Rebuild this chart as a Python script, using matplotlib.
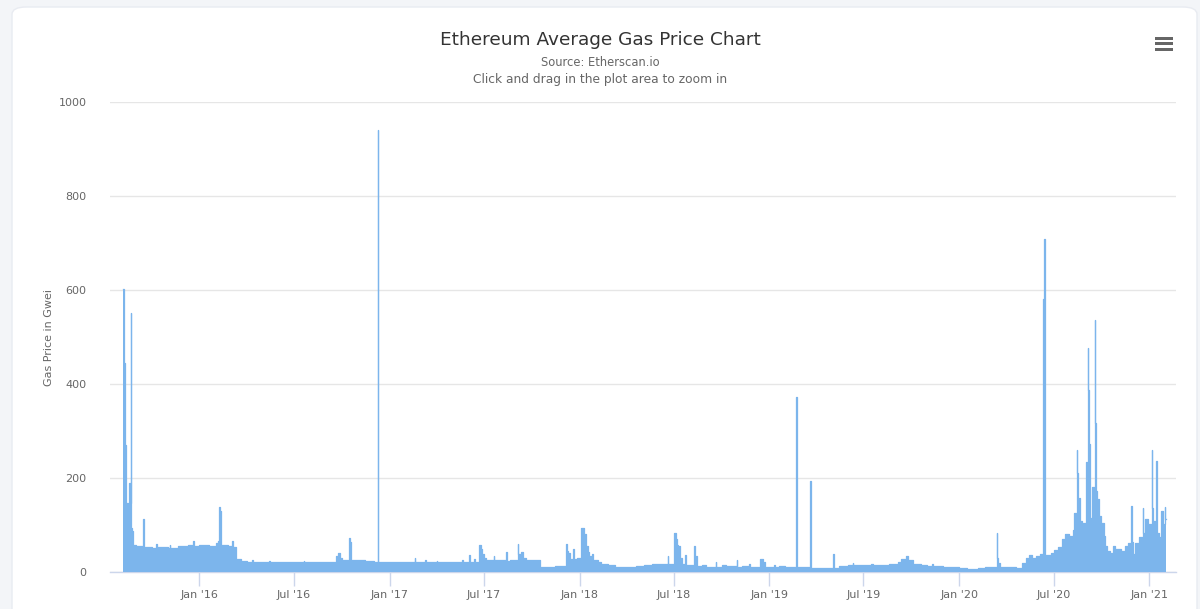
import numpy as np
import pandas as pd
import matplotlib
matplotlib.use("Agg")
import matplotlib.pyplot as plt
from matplotlib.patches import FancyBboxPatch, Rectangle

# --- données (Gwei, palier à partir de la date) ---
dates_2015 = ["2015-08-07", "2015-08-08", "2015-08-09", "2015-08-11", "2015-08-13", "2015-08-16",
              "2015-08-18", "2015-08-20", "2015-08-22", "2015-08-23", "2015-08-25", "2015-08-27",
              "2015-09-01", "2015-09-15", "2015-09-16", "2015-10-01", "2015-10-10", "2015-10-12",
              "2015-11-01", "2015-11-05", "2015-11-06", "2015-11-20", "2015-12-10", "2015-12-20",
              "2015-12-21"]
vals_2015 = [603, 474, 445, 270, 146, 142,
             190, 146, 552, 94, 88, 58,
             55, 112, 54, 51, 60, 53,
             52, 58, 52, 55, 58, 66,
             56]

dates_2016 = ["2016-01-01", "2016-01-20", "2016-02-01", "2016-02-05", "2016-02-08", "2016-02-10",
              "2016-02-12", "2016-02-25", "2016-03-03", "2016-03-05", "2016-03-12", "2016-03-20",
              "2016-04-01", "2016-04-12", "2016-04-13", "2016-05-01", "2016-05-14", "2016-05-15",
              "2016-06-01", "2016-07-01", "2016-07-20", "2016-07-21", "2016-08-01", "2016-09-01",
              "2016-09-20", "2016-09-24", "2016-09-27", "2016-10-01", "2016-10-14", "2016-10-16",
              "2016-10-19", "2016-11-15", "2016-12-01", "2016-12-09", "2016-12-10"]
vals_2016 = [57, 55, 62, 66, 138, 130,
             57, 55, 66, 53, 27, 23,
             22, 25, 21, 21, 24, 21,
             22, 21, 24, 21, 21, 21,
             34, 40, 30, 26, 73, 64,
             25, 24, 22, 940, 22]

dates_2017 = ["2017-01-01", "2017-02-18", "2017-02-19", "2017-03-10", "2017-03-11", "2017-04-01",
              "2017-04-02", "2017-05-20", "2017-05-21", "2017-06-03", "2017-06-04", "2017-06-12",
              "2017-06-14", "2017-06-22", "2017-06-25", "2017-06-28", "2017-07-02", "2017-07-06",
              "2017-07-20", "2017-07-21", "2017-08-13", "2017-08-14", "2017-08-20", "2017-09-04",
              "2017-09-05", "2017-09-10", "2017-09-14", "2017-09-20", "2017-10-16", "2017-11-01",
              "2017-11-15", "2017-12-05", "2017-12-07", "2017-12-10", "2017-12-13", "2017-12-20",
              "2017-12-22", "2017-12-28"]
vals_2017 = [21, 29, 21, 25, 21, 24,
             21, 26, 21, 36, 22, 27,
             22, 57, 48, 38, 30, 26,
             33, 25, 42, 23, 25, 60,
             38, 42, 30, 26, 11, 10,
             12, 59, 44, 40, 28, 48,
             28, 30]

dates_2018 = ["2018-01-03", "2018-01-10", "2018-01-13", "2018-01-17", "2018-01-20", "2018-01-24",
              "2018-01-27", "2018-02-05", "2018-02-12", "2018-02-25", "2018-03-10", "2018-04-01",
              "2018-04-20", "2018-05-05", "2018-05-20", "2018-06-01", "2018-06-20", "2018-06-21",
              "2018-07-02", "2018-07-05", "2018-07-07", "2018-07-09", "2018-07-12", "2018-07-14",
              "2018-07-17", "2018-07-23", "2018-07-24", "2018-08-09", "2018-08-11", "2018-08-13",
              "2018-08-14", "2018-08-25", "2018-09-01", "2018-09-20", "2018-09-21", "2018-10-01",
              "2018-10-10", "2018-10-30", "2018-10-31", "2018-11-10", "2018-11-22", "2018-11-25",
              "2018-12-14", "2018-12-19", "2018-12-22", "2018-12-23"]
vals_2018 = [93, 80, 55, 42, 35, 38,
             25, 22, 16, 14, 11, 10,
             13, 15, 16, 17, 33, 16,
             84, 70, 58, 40, 56, 30,
             16, 37, 15, 56, 20, 35,
             12, 14, 11, 22, 11, 14,
             12, 26, 11, 12, 16, 11,
             28, 13, 22, 11]

dates_2019 = ["2019-01-01", "2019-01-10", "2019-01-12", "2019-01-20", "2019-02-01", "2019-02-22",
              "2019-02-23", "2019-03-21", "2019-03-22", "2019-04-10", "2019-05-04", "2019-05-05",
              "2019-05-15", "2019-06-01", "2019-06-10", "2019-06-11", "2019-07-01", "2019-07-15",
              "2019-07-20", "2019-08-01", "2019-08-20", "2019-09-05", "2019-09-12", "2019-09-20",
              "2019-09-25", "2019-10-05", "2019-10-20", "2019-11-01", "2019-11-10", "2019-11-11",
              "2019-12-01", "2019-12-20"]
vals_2019 = [10, 14, 10, 12, 11, 373,
             10, 194, 9, 8, 39, 9,
             13, 15, 19, 14, 14, 17,
             14, 15, 18, 22, 28, 33,
             25, 16, 14, 13, 17, 12,
             11, 10]

dates_2020 = ["2020-01-01", "2020-01-16", "2020-02-06", "2020-02-20", "2020-03-13", "2020-03-14",
              "2020-03-16", "2020-03-20", "2020-04-01", "2020-04-20", "2020-05-01", "2020-05-08",
              "2020-05-15", "2020-05-20", "2020-05-28", "2020-06-05", "2020-06-11", "2020-06-12",
              "2020-06-13", "2020-06-14", "2020-06-25", "2020-07-01", "2020-07-10", "2020-07-16",
              "2020-07-23", "2020-07-30", "2020-08-07", "2020-08-09", "2020-08-14", "2020-08-15",
              "2020-08-16", "2020-08-19", "2020-08-21", "2020-08-25", "2020-09-01", "2020-09-04",
              "2020-09-05", "2020-09-06", "2020-09-08", "2020-09-12", "2020-09-18", "2020-09-19",
              "2020-09-20", "2020-09-23", "2020-09-26", "2020-09-30", "2020-10-05", "2020-10-08",
              "2020-10-12", "2020-10-17", "2020-10-22", "2020-10-27", "2020-11-01", "2020-11-08",
              "2020-11-15", "2020-11-20", "2020-11-27", "2020-11-28", "2020-12-01", "2020-12-05",
              "2020-12-12", "2020-12-19", "2020-12-20", "2020-12-24", "2020-12-30"]
vals_2020 = [9, 6, 9, 10, 82, 30,
             19, 11, 10, 9, 19, 30,
             36, 30, 35, 38, 581, 40,
             708, 36, 40, 47, 54, 70,
             81, 77, 90, 126, 259, 211,
             126, 158, 108, 105, 233, 476,
             388, 273, 115, 180, 536, 318,
             172, 156, 119, 104, 77, 55,
             45, 40, 55, 48, 50, 45,
             55, 62, 140, 63, 38, 62,
             75, 137, 84, 113, 103]

dates_2021 = ["2021-01-05", "2021-01-06", "2021-01-08", "2021-01-14", "2021-01-15", "2021-01-20",
              "2021-01-24", "2021-01-27", "2021-01-30", "2021-01-31", "2021-02-02"]
vals_2021 = [259, 137, 108, 236, 84, 74,
             130, 103, 139, 113, 113]

tick_dates = ["2016-01-01", "2016-07-01", "2017-01-01", "2017-07-01", "2018-01-01", "2018-07-01",
              "2019-01-01", "2019-07-01", "2020-01-01", "2020-07-01", "2021-01-01"]
tick_labels = ["Jan '16", "Jul '16", "Jan '17", "Jul '17", "Jan '18", "Jul '18",
               "Jan '19", "Jul '19", "Jan '20", "Jul '20", "Jan '21"]

dates = pd.to_datetime(dates_2015 + dates_2016 + dates_2017 + dates_2018 + dates_2019 + dates_2020 + dates_2021)
vals = np.array(vals_2015 + vals_2016 + vals_2017 + vals_2018 + vals_2019 + vals_2020 + vals_2021)

blue = "#7cb5ec"
grey_txt = "#666666"

fig = plt.figure(figsize=(12, 6.09), dpi=100)
fig.patch.set_facecolor("#f3f5f8")

# carte blanche + bas grisé
card = FancyBboxPatch((12 / 1200, -0.05), 1185 / 1200, (609 - 7) / 609 + 0.05,
                      boxstyle="round,pad=0,rounding_size=0.012", transform=fig.transFigure,
                      facecolor="white", edgecolor="#e8ebf1", linewidth=1.0, zorder=0)
fig.patches.append(card)
grad_ax = fig.add_axes([13 / 1200, 0, 1183 / 1200, 37 / 609], zorder=0)
grad = np.linspace(0, 1, 50).reshape(-1, 1)
grad_ax.imshow(grad, aspect="auto", cmap=matplotlib.colors.LinearSegmentedColormap.from_list(
    "g", ["#f3f3f3", "#ffffff"]), origin="lower", extent=(0, 1, 0, 1))
grad_ax.axis("off")

ax = fig.add_axes([110 / 1200, (609 - 572) / 609, 1066 / 1200, 470 / 609], zorder=2)
ax.patch.set_alpha(0)

ax.fill_between(dates, vals, step="post", color=blue, linewidth=0, zorder=3)
ax.step(dates, vals, where="post", color=blue, linewidth=0.9, zorder=4)

ax.set_xlim(pd.Timestamp("2015-07-13"), pd.Timestamp("2021-02-21"))
ax.set_ylim(0, 1000)
ax.set_yticks([0, 200, 400, 600, 800, 1000])
ax.yaxis.grid(True, color="#e6e6e6", linewidth=1)
ax.set_axisbelow(True)
ax.tick_params(axis="y", length=0, pad=17, labelsize=8, labelcolor=grey_txt)

ax.set_xticks(pd.to_datetime(tick_dates))
ax.set_xticklabels(tick_labels)
ax.tick_params(axis="x", length=10, width=1, color="#ccd6eb", pad=3, labelsize=8, labelcolor=grey_txt)

for s in ["top", "right", "left"]:
    ax.spines[s].set_visible(False)
ax.spines["bottom"].set_color("#ccd6eb")
ax.spines["bottom"].set_linewidth(1)

ax.set_ylabel("Gas Price in Gwei", color=grey_txt, fontsize=8)
ax.yaxis.set_label_coords(-0.053, 0.5)

fig.text(0.5, 1 - 40 / 609, "Ethereum Average Gas Price Chart", ha="center", va="center",
         fontsize=13.3, color="#333333")
fig.text(0.5, 1 - 63 / 609, "Source: Etherscan.io", ha="center", va="center", fontsize=8.3, color=grey_txt)
fig.text(0.5, 1 - 79 / 609, "Click and drag in the plot area to zoom in", ha="center", va="center",
         fontsize=8.8, color=grey_txt)

# icône menu
for yy in [38, 43.5, 49]:
    fig.patches.append(Rectangle((1155 / 1200, 1 - (yy + 1.5) / 609), 18 / 1200, 3 / 609,
                                 transform=fig.transFigure, facecolor="#666666", edgecolor="none", zorder=5))

fig.savefig("out.png", dpi=100, facecolor=fig.get_facecolor())
